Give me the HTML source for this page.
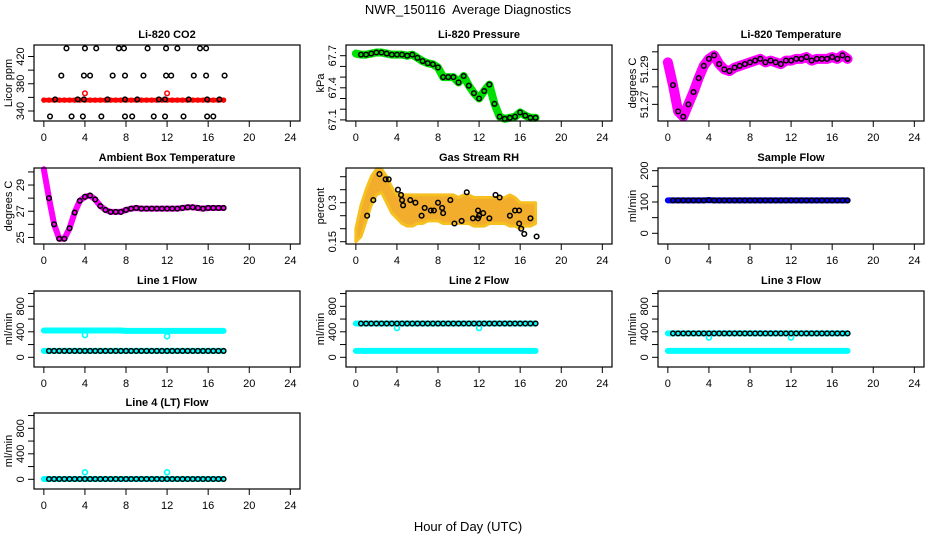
<!DOCTYPE html>
<html><head><meta charset="utf-8"><style>
body{margin:0;background:#fff}
svg{display:block;font-family:"Liberation Sans",Arial,sans-serif}
</style></head><body>
<svg id="chart" width="936" height="540" viewBox="0 0 936 540" xmlns="http://www.w3.org/2000/svg">
<text x="468" y="14" text-anchor="middle" font-size="13" style="white-space:pre" xml:space="preserve">NWR_150116  Average Diagnostics</text>
<text x="468" y="531" text-anchor="middle" font-size="13">Hour of Day (UTC)</text>
</svg>
<script>
// ---- data ----
const hoursHalf = [0,0.5,1,1.5,2,2.5,3,3.5,4,4.5,5,5.5,6,6.5,7,7.5,8,8.5,9,9.5,10,10.5,11,11.5,12,12.5,13,13.5,14,14.5,15,15.5,16,16.5,17,17.5];
const xTicks = [0,4,8,12,16,20,24];
const co2Red = [356,356,356,356,356,356,356,356,356,356,356,356,356,356,356,356,356,356,356,356,356,356,356,356,356,356,356,356,356,356,356,356,356,356,356,356];
const co2RedOutHours = [4,12];
const co2RedOutVals = [366,366];
const co2BlackHours = [2.2,4.0,5.1,7.3,7.8,10.1,11.9,13.0,15.2,15.8, 1.7,3.9,4.5,6.7,7.9,9.7,11.9,12.4,14.6,15.8,17.6, 1.1,3.3,3.9,6.2,7.9,9.1,11.2,11.8,14.1,15.9,17.1, 0.6,2.7,3.8,5.6,7.9,8.6,10.7,11.8,13.6,15.9,16.5];
const co2BlackVals = [432,432,432,432,432,432,432,432,432,432, 392,392,392,392,392,392,392,392,392,392,392, 357,357,357,357,357,357,357,357,357,357,357, 332,332,332,332,332,332,332,332,332,332,332];
const pressVals = [67.72,67.71,67.71,67.72,67.73,67.73,67.72,67.71,67.71,67.71,67.70,67.71,67.68,67.65,67.63,67.62,67.59,67.50,67.50,67.50,67.45,67.51,67.42,67.35,67.30,67.37,67.43,67.25,67.13,67.11,67.12,67.13,67.17,67.14,67.12,67.12];
const tempVals = [51.294,51.281,51.266,51.263,51.270,51.277,51.285,51.292,51.296,51.298,51.293,51.290,51.289,51.291,51.292,51.293,51.294,51.295,51.296,51.294,51.295,51.294,51.293,51.295,51.295,51.296,51.296,51.297,51.295,51.296,51.296,51.296,51.297,51.296,51.298,51.296];
const ambVals = [30.2,28.0,26.0,24.9,24.9,25.7,26.9,27.8,28.1,28.2,27.9,27.4,27.1,26.95,26.95,26.95,27.1,27.2,27.25,27.2,27.2,27.2,27.2,27.2,27.2,27.2,27.2,27.25,27.3,27.3,27.25,27.2,27.25,27.25,27.25,27.25];
const rhHi = [0.20,0.29,0.35,0.40,0.43,0.43,0.40,0.36,0.33,0.33,0.33,0.33,0.33,0.33,0.33,0.33,0.33,0.33,0.33,0.33,0.32,0.33,0.33,0.32,0.32,0.32,0.32,0.32,0.32,0.32,0.33,0.32,0.30,0.30,0.30,0.30];
const rhLo = [0.15,0.17,0.23,0.29,0.33,0.34,0.30,0.26,0.24,0.22,0.21,0.21,0.22,0.22,0.23,0.23,0.23,0.22,0.22,0.22,0.22,0.22,0.22,0.21,0.21,0.21,0.22,0.22,0.22,0.22,0.21,0.21,0.20,0.21,0.21,0.22];
const rhBlackHours = [1.1,1.7,2.3,2.9,3.2,4.1,4.4,4.5,4.6,5.3,5.8,6.4,6.7,7.3,7.6,8.0,8.4,8.5,9.2,9.6,10.3,10.8,11.4,11.9,11.9,12.0,12.4,13.0,13.6,14.0,15.0,15.5,15.9,15.9,16.1,16.4,17.0,17.6];
const rhBlackVals = [0.25,0.31,0.41,0.39,0.39,0.35,0.33,0.31,0.29,0.31,0.30,0.25,0.28,0.27,0.27,0.30,0.28,0.26,0.31,0.22,0.23,0.34,0.24,0.24,0.27,0.25,0.26,0.24,0.33,0.32,0.25,0.27,0.27,0.22,0.20,0.18,0.24,0.17];
const sampleVals = [105,105,105,105,105,105,105,105,106,105,105,105,105,105,105,105,105,105,105,105,105,105,105,105,105,105,105,105,105,105,105,105,105,105,105,105];
const line1Hi = [420,420,420,420,420,420,420,420,420,420,420,420,420,420,420,420,415,415,415,415,415,415,415,415,415,415,415,415,415,415,415,415,415,415,415,415];
const line1Lo = [100,100,100,100,100,100,100,100,100,100,100,100,100,100,100,100,100,100,100,100,100,100,100,100,100,100,100,100,100,100,100,100,100,100,100,100];
const line2Hi = [530,530,530,530,530,530,530,530,530,530,530,530,530,530,530,530,530,530,530,530,530,530,530,530,530,530,530,530,530,530,530,530,530,530,530,530];
const line2Lo = [100,100,100,100,100,100,100,100,100,100,100,100,100,100,100,100,100,100,100,100,100,100,100,100,100,100,100,100,100,100,100,100,100,100,100,100];
const line3Hi = [375,375,375,375,375,375,375,375,375,375,375,375,375,375,375,375,375,375,375,375,375,375,375,375,375,375,375,375,375,375,375,375,375,375,375,375];
const line3Lo = [100,100,100,100,100,100,100,100,100,100,100,100,100,100,100,100,100,100,100,100,100,100,100,100,100,100,100,100,100,100,100,100,100,100,100,100];
const line4Vals = [5,5,5,5,5,5,5,5,5,5,5,5,5,5,5,5,5,5,5,5,5,5,5,5,5,5,5,5,5,5,5,5,5,5,5,5];
const dipHours = [4,12];
const line1Dips = [350,330];
const line2Dips = [460,460];
const line3Dips = [310,310];
const line4Dips = [110,110];

// ---- drawing ----
const NS="http://www.w3.org/2000/svg";
const svg=document.getElementById('chart');
function mk(tag,attrs,parent){const e=document.createElementNS(NS,tag);for(const k in attrs)e.setAttribute(k,attrs[k]);(parent||svg).appendChild(e);return e;}
const colL=[34,346,658], rowT=[45,168,291,413], PW=266, PH=76;

function panel(col,row,title,ylab,ymin,ymax,ticks,labels){
  const L=colL[col],T=rowT[row];
  const g=mk('g',{});
  
  
  const P={L,T,g,x:h=>L+9.85+h*10.27,y:v=>T+(ymax-v)/(ymax-ymin)*PH};
  const t=mk('text',{x:L+PW/2,y:T-7,'text-anchor':'middle','font-size':11,'font-weight':'bold'},g);t.textContent=title;
  
  
  const ax=mk('g',{stroke:'#000','stroke-width':1},g);
  
  
  xTicks.forEach(h=>{const xx=P.x(h);mk('line',{x1:xx,x2:xx,y1:T+PH,y2:T+PH+6},ax);
    const tl=mk('text',{x:xx,y:T+PH+20,'text-anchor':'middle','font-size':11,stroke:'none'},ax);tl.textContent=h;});
  const ay=mk('g',{stroke:'#000','stroke-width':1},g);
  
  
  ticks.forEach(v=>{const yy=P.y(v);if(yy<T-1||yy>T+PH+1)return;mk('line',{x1:L-6,x2:L,y1:yy,y2:yy},ay);});
  labels.forEach(v=>{const yy=P.y(v);const tl=mk('text',{x:L-10,y:yy,'text-anchor':'middle','font-size':11,stroke:'none',transform:`rotate(-90 ${L-10} ${yy})`},ay);tl.textContent=String(v);});
  const yt=mk('text',{x:L-22,y:T+PH/2,'text-anchor':'middle','font-size':11,transform:`rotate(-90 ${L-22} ${T+PH/2})`},g);yt.textContent=ylab;
  
  
  P.plot=mk('g',{},g);
  P.finish=()=>{const b=mk('rect',{x:L,y:T,width:PW,height:PH,fill:'none',stroke:'#000','stroke-width':1.2},g);
    
    };
  return P;
}
function band(P,hours,vals,color,w){
  const pts=hours.map((h,i)=>P.x(h)+','+P.y(vals[i])).join(' ');
  const pl=mk('polyline',{points:pts,fill:'none',stroke:color,'stroke-width':w,'stroke-linejoin':'round','stroke-linecap':'round'},P.plot);
  
  
}
function pts(P,hours,vals,color,r,sw,name){
  hours.forEach((h,i)=>{const c=mk('circle',{cx:P.x(h),cy:P.y(vals[i]),r:r,fill:'none',stroke:color,'stroke-width':sw},P.plot);
    
    });
}
const blackH=hoursHalf.slice(1);
const sub=a=>a.slice(1);

// CO2
let P=panel(0,0,'Li-820 CO2','Licor ppm',325.3,436.9,[340,360,380,400,420],[340,380,420]);
band(P,hoursHalf,co2Red,'#ff0000',4.5);
pts(P,hoursHalf,co2Red,'#ff0000',2,1.5,'co2-point');
pts(P,co2RedOutHours,co2RedOutVals,'#ff0000',2.3,1.5,'co2-outlier');
pts(P,co2BlackHours,co2BlackVals,'#000',2.3,1.5,'co2-sample-point');
P.finish();
// Pressure
P=panel(1,0,'Li-820 Pressure','kPa',67.0897,67.8,[67.1,67.2,67.3,67.4,67.5,67.6,67.7],[67.1,67.4,67.7]);
band(P,hoursHalf,pressVals,'#00e000',8);
pts(P,blackH,sub(pressVals),'#000',2.3,1.5,'pressure-point');
P.finish();
// Temperature
P=panel(2,0,'Li-820 Temperature','degrees C',51.2605,51.3039,[51.27,51.28,51.29,51.30],[51.27,51.29]);
band(P,hoursHalf,tempVals,'#ff00ff',10);
pts(P,blackH,sub(tempVals),'#000',2.3,1.5,'temperature-point');
P.finish();
// Ambient
P=panel(0,1,'Ambient Box Temperature','degrees C',24.5,30.3,[25,26,27,28,29,30],[25,27,29]);
band(P,hoursHalf,ambVals,'#ff00ff',6);
pts(P,blackH,sub(ambVals),'#000',2.3,1.5,'ambient-point');
P.finish();
// RH
P=panel(1,1,'Gas Stream RH','percent',0.1412,0.4335,[0.15,0.20,0.25,0.30,0.35,0.40],[0.15,0.30]);
{const up=hoursHalf.map((h,i)=>P.x(h)+','+P.y(rhHi[i]));const lo=hoursHalf.map((h,i)=>P.x(h)+','+P.y(rhLo[i])).reverse();
 const pg=mk('polygon',{points:up.concat(lo).join(' '),fill:'#f2ad2c',stroke:'#f5c020','stroke-width':3,'stroke-linejoin':'round'},P.plot);
 
 }
pts(P,rhBlackHours,rhBlackVals,'#000',2.3,1.5,'rh-point');
P.finish();
// Sample flow
P=panel(2,1,'Sample Flow','ml/min',-34.2,208.6,[0,50,100,150,200],[0,100,200]);
band(P,hoursHalf,sampleVals,'#0000ff',6);
pts(P,blackH,sub(sampleVals),'#000',2.3,1.5,'sample-flow-point');
P.finish();
// Line flows
const fT=[0,200,400,600,800,1000],fL=[0,400,800];
function flow(col,row,title,hi,lo,dips,blackOn){
  const Q=panel(col,row,title,'ml/min',-152,1040,fT,fL);
  if(hi)band(Q,hoursHalf,hi,'#00ffff',6);
  band(Q,hoursHalf,lo,'#00ffff',6);
  pts(Q,dipHours,dips,'#00ffff',2.5,1.6,'flow-dip');
  pts(Q,blackH,sub(blackOn),'#000',2.3,1.5,'flow-point');
  Q.finish();
}
flow(0,2,'Line 1 Flow',line1Hi,line1Lo,line1Dips,line1Lo);
flow(1,2,'Line 2 Flow',line2Hi,line2Lo,line2Dips,line2Hi);
flow(2,2,'Line 3 Flow',line3Hi,line3Lo,line3Dips,line3Hi);
flow(0,3,'Line 4 (LT) Flow',null,line4Vals,line4Dips,line4Vals);
</script>
</body></html>
